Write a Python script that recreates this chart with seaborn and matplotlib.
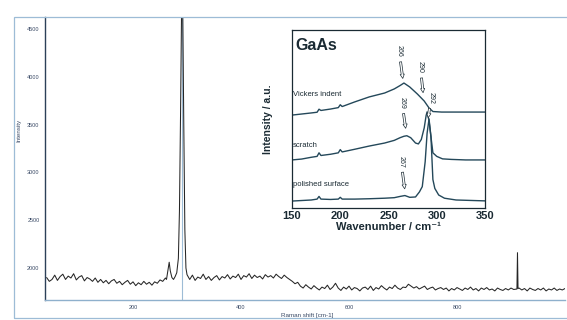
#-- Raman spectrum of GaAs with inset of the LO/TO region --
import numpy as np
import pandas as pd
import matplotlib
matplotlib.use('Agg')
import matplotlib.pyplot as plt
from matplotlib.patches import Rectangle
import seaborn as sns

sns.set_style('white')
plt.rcParams['font.family'] = ['Liberation Sans', 'DejaVu Sans']

#--main spectrum (Raman shift in cm-1, counts)--
shift_left = list(range(40, 261, 5))
int_left = [1900, 1860,
            1880, 1925, 1870, 1910, 1935, 1880, 1915, 1895, 1940, 1875,
            1905, 1920, 1865, 1900, 1885, 1860, 1895, 1850, 1880, 1845,
            1870, 1835, 1865, 1880, 1840, 1860, 1825, 1850, 1870, 1830,
            1855, 1815, 1845, 1825, 1860, 1830, 1850, 1820, 1855, 1840,
            1875, 1860, 1895]
shift_peak = [262, 265, 267, 269, 272, 275, 278, 281, 284, 286, 288, 290, 292, 294, 296, 298, 300]
int_peak = [1880, 1990, 2060, 1970, 1900, 1880, 1910, 1950, 2100, 2600, 3600, 4750, 4750, 3500, 2400, 2000, 1930]
shift_mid = list(range(305, 506, 5))
int_mid = [1880, 1925, 1870, 1905, 1890, 1935, 1880, 1910, 1870, 1900,
           1920, 1875, 1910, 1895, 1930, 1885, 1915, 1900, 1935, 1880,
           1920, 1905, 1940, 1890, 1925, 1900, 1915, 1885, 1930, 1905,
           1920, 1895, 1935, 1910, 1890, 1925, 1900, 1880, 1860, 1835,
           1850]
shift_right = list(range(510, 1001, 5))
int_right = [1810, 1790, 1825, 1800, 1780, 1815, 1790, 1770, 1800, 1785,
             1820, 1775, 1800, 1840, 1790, 1765, 1800, 1780, 1810, 1770,
             1795, 1785, 1760, 1790, 1800, 1775, 1810, 1765, 1795, 1780,
             1815, 1790, 1770, 1800, 1785, 1820, 1790, 1775, 1800, 1795,
             1830, 1810, 1790, 1805, 1780, 1795, 1810, 1775, 1790, 1800,
             1770, 1785, 1795, 1775, 1790, 1760, 1785, 1770, 1795, 1780,
             1765, 1790, 1775, 1800, 1770, 1785, 1760, 1790, 1775, 1795,
             1770, 1780, 1760, 1790, 1775, 1765, 1785, 1770, 1790, 1775,
             1780, 1790, 1770, 1785, 1760, 1790, 1775, 1765, 1785, 1770,
             1790, 1760, 1780, 1770, 1790, 1765, 1780, 1770, 1785]
shift_spike = [911, 912, 913]
int_spike = [1780, 2160, 1785]

#--inset spectra (wavenumber, a.u.)--
wn_vickers = [150, 160, 170, 176, 178, 180, 190, 198, 200, 202, 215, 230, 246, 256, 262, 266,
              272, 280, 287, 292, 296, 305, 320, 350]
i_vickers = [52.2, 52.8, 53.4, 53.8, 55.5, 54.8, 55.6, 56.4, 58.0, 57.0, 59.6, 62.4, 64.6, 66.9, 68.8, 70.2,
             68.0, 64.0, 60.1, 56.2, 54.2, 53.9, 53.9, 53.9]
wn_scratch = [150, 160, 170, 176, 178, 180, 190, 198, 200, 202, 215, 230, 246, 256, 262, 266, 269,
              273, 278, 281, 284, 287, 289, 290, 292, 294, 296, 300, 306, 315, 330, 350]
i_scratch = [27.0, 27.5, 28.5, 29.0, 31.0, 29.5, 30.2, 31.0, 32.8, 31.5, 33.0, 34.8, 36.5, 38.0, 39.5, 40.3, 40.6,
             39.5, 36.5, 36.0, 38.5, 45.0, 52.0, 54.0, 49.0, 40.0, 31.0, 29.0, 27.6, 27.3, 27.0, 27.0]
wn_polished = [150, 160, 170, 176, 178, 180, 190, 198, 200, 202, 215, 230, 246, 256, 262, 267, 272,
               278, 282, 285, 288, 290, 292, 294, 296, 298, 302, 308, 320, 350]
i_polished = [3.9, 4.2, 4.5, 5.0, 6.5, 5.0, 4.8, 5.0, 6.0, 5.0, 5.0, 5.2, 5.5, 5.8, 6.5, 7.0, 6.0,
              6.2, 9.0, 12.0, 26.0, 42.0, 50.0, 40.0, 16.0, 11.0, 7.3, 5.5, 4.5, 4.0]
curve_names = ['Vickers indent', 'scratch', 'polished surface']
curve_label_y = [63.5, 35.0, 13.0]

#--peak labels: text, peak position, peak height, text position--
peak_text = ['266', '290', '292', '269', '267']
peak_x = [265, 286, 291, 268, 267]
peak_y = [72, 64, 50, 44, 10]
text_x = [261, 283, 294, 264, 263]
text_y = [88, 79, 62, 59, 26]

main = pd.DataFrame({'shift': shift_left + shift_peak + shift_mid + shift_right + shift_spike,
                     'intensity': int_left + int_peak + int_mid + int_right + int_spike})
main = main.sort_values('shift')

fig = plt.figure(figsize=(5.67, 3.20), dpi=100)
fig.patches.append(Rectangle((14/567, 2/320), 1.0, 301/320, transform=fig.transFigure,
                             fill=False, ec='#9dbcd6', lw=0.9, zorder=0))

ax = fig.add_axes([45/567, 20/320, 520/567, 283/320])
ax.axvline(291.5, color='#9dbcd6', lw=0.8, zorder=1)
sns.lineplot(data=main, x='shift', y='intensity', ax=ax, color='#262626', lw=0.75,
             estimator=None, sort=False, zorder=2)
ax.set_xlim(37, 1000)
ax.set_ylim(1665, 4625)
ax.set_xticks([200, 400, 600, 800])
ax.set_xticks(np.arange(40, 1000, 40), minor=True)
ax.set_yticks([2000, 2500, 3000, 3500, 4000, 4500])
ax.set_yticks(np.arange(1700, 4625, 100), minor=True)
for s in ['top', 'right']:
    ax.spines[s].set_visible(False)
ax.spines['left'].set_color('#2c4058')
ax.spines['left'].set_linewidth(1.0)
ax.spines['bottom'].set_color('#8fb0cc')
ax.spines['bottom'].set_linewidth(1.0)
ax.tick_params(axis='y', which='major', labelsize=4, colors='#3a4a66', length=3, width=0.6, direction='out', pad=1)
ax.tick_params(axis='y', which='minor', length=1.5, width=0.5, color='#3a4a66', direction='out')
ax.tick_params(axis='x', which='major', labelsize=4, colors='#3a4a66', length=3, width=0.6, direction='inout', pad=2)
ax.tick_params(axis='x', which='minor', length=2, width=0.5, color='#3a4a66', direction='inout')
ax.set_xlabel('Raman shift [cm-1]', fontsize=4.5, color='#3a4a66')
ax.set_ylabel('Intensity', fontsize=4.5, color='#3a4a66')
ax.xaxis.set_label_coords(0.504, -0.046)
ax.yaxis.set_label_coords(-0.045, 0.6)

#--inset--
ins = fig.add_axes([292/567, 112/320, 193/567, 178/320], facecolor='white', zorder=5)
line_c = '#24485a'
for wn, inten in [(wn_vickers, i_vickers), (wn_scratch, i_scratch), (wn_polished, i_polished)]:
    sns.lineplot(x=wn, y=inten, ax=ins, color=line_c, lw=1.0, estimator=None, sort=False)
ins.set_xlim(150, 350)
ins.set_ylim(0, 100)
ins.set_xticks([150, 200, 250, 300, 350])
ins.set_yticks([])
for s in ins.spines.values():
    s.set_color('#1a2a33')
    s.set_linewidth(0.9)
ins.tick_params(axis='x', labelsize=8, length=3, width=0.8, direction='in', pad=2, colors='#1a2a33')
for lab in ins.get_xticklabels():
    lab.set_fontweight('bold')
ins.set_xlabel('Wavenumber / cm\u207b\u00b9', fontsize=8, fontweight='bold', color='#1a2a33', labelpad=1)
ins.set_ylabel('Intensity / a.u.', fontsize=7.5, fontweight='bold', color='#1a2a33')
ins.yaxis.set_label_coords(-0.1, 0.5)
ins.text(153, 91.5, 'GaAs', fontsize=11.5, fontweight='bold', color='#1a2a33', va='center', ha='left')
for name, yy in zip(curve_names, curve_label_y):
    ins.text(151, yy, name, fontsize=5.5, color='#1a2a33', va='center', ha='left')
for t, px, py, tx, ty in zip(peak_text, peak_x, peak_y, text_x, text_y):
    ins.annotate(t, xy=(px, py), xytext=(tx, ty), fontsize=5, rotation=270, color='#1a2a33',
                 ha='center', va='center',
                 arrowprops=dict(arrowstyle='simple,head_width=0.6,head_length=0.6,tail_width=0.3',
                                 fc='white', ec='#1a2a33', lw=0.5, shrinkA=1, shrinkB=1))

fig.savefig('out.png', dpi=100)
